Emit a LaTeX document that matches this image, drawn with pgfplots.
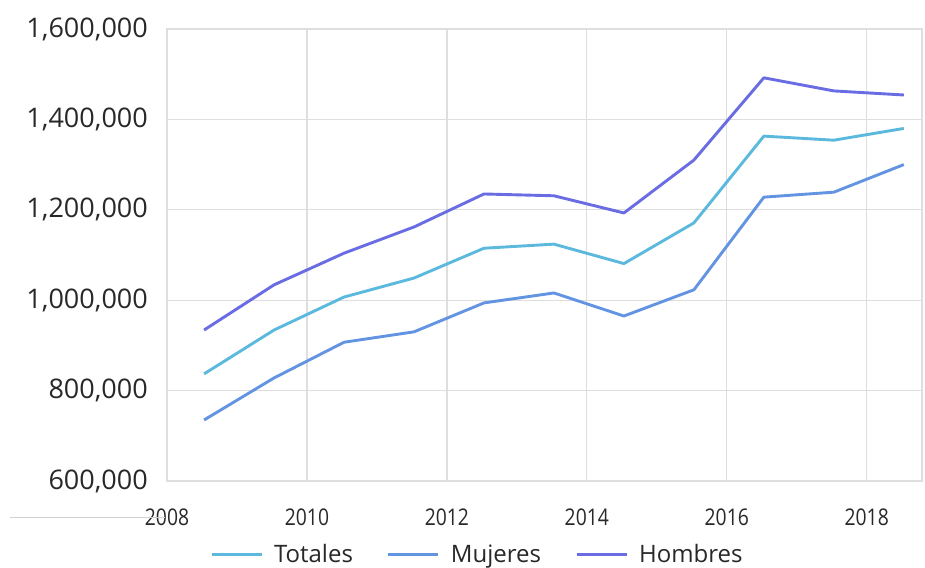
\documentclass[border=0pt]{standalone}
\usepackage{pgfplots}
\pgfplotsset{compat=1.18}
\usepackage{fontspec}
\setmainfont{Open Sans}
\definecolor{ctot}{RGB}{92,185,222}
\definecolor{cmuj}{RGB}{99,148,226}
\definecolor{chom}{RGB}{105,108,226}
\definecolor{cgrid}{RGB}{222,222,222}
\definecolor{ctxt}{RGB}{40,40,40}
\begin{document}
\begin{tikzpicture}
\begin{axis}[
  name=ax,
  at={(0,0)}, anchor=south west,
  scale only axis,
  width=755bp, height=452bp,
  xmin=2008, xmax=2018.79,
  ymin=600000, ymax=1600000,
  xtick={2008,2010,2012,2014,2016,2018},
  ytick={600000,800000,1000000,1200000,1400000,1600000},
  grid=major,
  grid style={cgrid, line width=1.3bp},
  axis line style={draw=cgrid, line width=1.3bp},
  major tick length=0pt,
  /pgf/number format/assume math mode=true,
  yticklabel style={/pgf/number format/.cd, fixed, 1000 sep={,}, precision=0, /tikz/.cd,
    font=\fontsize{27bp}{30bp}\selectfont, text=ctxt, anchor=east, inner sep=0pt, xshift=-19bp},
  xticklabel style={/pgf/number format/.cd, 1000 sep={}, /tikz/.cd,
    font=\fontsize{23bp}{26bp}\selectfont, text=ctxt, anchor=center, inner sep=0pt, yshift=-36bp, xscale=0.84},
  scaled y ticks=false,
  clip=false,
  legend columns=-1,
  legend style={at={(rel axis cs:0.411,0)}, anchor=center, yshift=-73bp, draw=none, fill=none,
    font=\fontsize{24bp}{27bp}\selectfont, text=ctxt,
    /tikz/every odd column/.append style={column sep=9bp},
    /tikz/every even column/.append style={column sep=32bp}},
  legend image code/.code={\draw[#1, line width=3bp] (0bp,0bp) -- (50bp,0bp);},
  every axis plot/.append style={line width=2.9bp, line join=round, no markers},
]
\addplot[ctot] coordinates {
 (2008.53,837000) (2009.53,934000) (2010.53,1007000) (2011.53,1049000) (2012.53,1115000)
 (2013.53,1124000) (2014.53,1081000) (2015.53,1171000) (2016.53,1363000) (2017.53,1354000) (2018.53,1380000)};
\addlegendentry{Totales}
\addplot[cmuj] coordinates {
 (2008.53,735000) (2009.53,828000) (2010.53,907000) (2011.53,930000) (2012.53,994000)
 (2013.53,1016000) (2014.53,965000) (2015.53,1023000) (2016.53,1228000) (2017.53,1239000) (2018.53,1300000)};
\addlegendentry{Mujeres}
\addplot[chom] coordinates {
 (2008.53,934000) (2009.53,1034000) (2010.53,1104000) (2011.53,1162000) (2012.53,1235000)
 (2013.53,1231000) (2014.53,1193000) (2015.53,1310000) (2016.53,1492000) (2017.53,1463000) (2018.53,1454000)};
\addlegendentry{Hombres}
\end{axis}
\draw[black!18, line width=0.8bp] (-157bp,-36bp) -- (-2bp,-36bp);
\pgfresetboundingbox
\useasboundingbox (-167bp,-87bp) rectangle (758bp,481bp);
\end{tikzpicture}
\end{document}
